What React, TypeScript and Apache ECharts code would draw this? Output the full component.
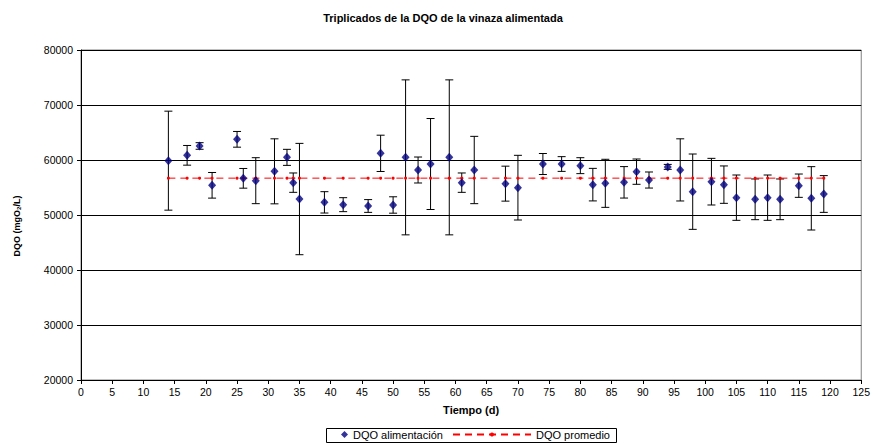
import React, { useEffect, useRef } from "react";
import * as echarts from "echarts";

// Sampling days (d)
const dias = [14, 17, 19, 21, 25, 26, 28, 31, 33, 34, 35, 39, 42, 46, 48, 50, 52, 54, 56, 59, 61, 63, 68, 70, 74, 77, 80, 82, 84, 87, 89, 91, 94, 96, 98, 101, 103, 105, 108, 110, 112, 115, 117, 119];

// Mean COD of each triplicate (mgO2/L)
const dqoMedia = [59880, 60850, 62550, 55400, 63760, 56670, 56240, 57940, 60480, 55880, 52900, 52300, 51880, 51640, 61210, 51820, 60480, 58180, 59270, 60480, 55880, 58180, 55700, 54970, 59270, 59270, 58970, 55520, 55760, 55940, 57880, 56360, 58750, 58200, 54240, 56060, 55520, 53150, 52850, 53150, 52850, 55330, 53030, 53820];

// Standard deviation of each triplicate (mgO2/L)
const dqoDesv = [9000, 1790, 600, 2330, 1430, 1790, 4180, 5910, 1460, 1760, 10120, 1940, 1270, 1160, 3300, 1490, 14090, 2360, 8270, 14090, 1760, 6120, 3180, 5880, 1910, 1340, 1450, 2960, 4370, 2860, 2300, 1460, 450, 5650, 6850, 4240, 3400, 4120, 3700, 4120, 3700, 2120, 5760, 3340];

// Overall average COD of the fed vinasse
const dqoPromedio = 56700;

// Axis ticks
const yTicks = { min: 20000, max: 80000, interval: 10000 };
const xTicks = { min: 0, max: 125, interval: 5 };

const FONT = "'Liberation Sans', Arial, sans-serif";

export default function App() {
  const ref = useRef<HTMLDivElement>(null);

  useEffect(() => {
    if (!ref.current) return;
    const chart = echarts.init(ref.current, null, { renderer: "svg" });

    const puntos = dias.map((d, i) => [d, dqoMedia[i]]);
    const barras = dias.map((d, i) => [d, dqoMedia[i] - dqoDesv[i], dqoMedia[i] + dqoDesv[i]]);
    const promedio = dias.map((d) => [d, dqoPromedio]);

    const legendText = { fontFamily: FONT, fontSize: 11, color: "#000" };

    chart.setOption({
      animation: false,
      backgroundColor: "#ffffff",
      textStyle: { fontFamily: FONT, color: "#000" },
      title: {
        text: "Triplicados de la DQO de la vinaza alimentada",
        left: 438,
        textAlign: "center",
        top: 7,
        textStyle: { fontFamily: FONT, fontSize: 11, fontWeight: "bold", color: "#000" },
      },
      grid: {
        left: 81,
        right: 11,
        top: 50,
        bottom: 63,
        show: true,
        borderColor: "#808080",
        borderWidth: 1,
      },
      legend: [
        {
          left: 341,
          top: 429,
          data: [{ name: "DQO alimentación", icon: "diamond" }],
          itemWidth: 7,
          itemHeight: 7,
          padding: 0,
          textStyle: legendText,
        },
        {
          left: 452,
          top: 429,
          data: [{ name: "DQO promedio" }],
          itemWidth: 78,
          itemHeight: 5,
          padding: 0,
          textStyle: legendText,
        },
      ],
      xAxis: {
        type: "value",
        min: xTicks.min,
        max: xTicks.max,
        interval: xTicks.interval,
        name: "Tiempo (d)",
        nameLocation: "middle",
        nameGap: 24,
        nameTextStyle: { fontFamily: FONT, fontSize: 11, fontWeight: "bold", color: "#000" },
        axisLine: { show: true, lineStyle: { color: "#000", width: 1 } },
        axisTick: { show: true, length: 4, lineStyle: { color: "#000" } },
        axisLabel: { fontFamily: FONT, fontSize: 10.5, color: "#000", margin: 6 },
        splitLine: { show: false },
      },
      yAxis: {
        type: "value",
        min: yTicks.min,
        max: yTicks.max,
        interval: yTicks.interval,
        axisLine: { show: true, lineStyle: { color: "#000", width: 1 } },
        axisTick: { show: true, length: 4, lineStyle: { color: "#000" } },
        axisLabel: {
          fontFamily: FONT,
          fontSize: 10.5,
          color: "#000",
          margin: 8,
          formatter: (v: number) => String(v),
        },
        splitLine: { show: true, lineStyle: { color: "#000", width: 1 } },
      },
      graphic: [
        {
          type: "text",
          x: 17,
          y: 226,
          rotation: Math.PI / 2,
          style: {
            text: "{a|DQO (mgO}{b|2}{a|/L)}",
            rich: {
              a: { fontFamily: FONT, fontSize: 9, fontWeight: "bold", fill: "#000" },
              b: { fontFamily: FONT, fontSize: 6, fontWeight: "bold", fill: "#000", padding: [4, 0, 0, 0] },
            },
            align: "center",
            verticalAlign: "middle",
          },
        },
        {
          type: "rect",
          shape: { x: 326.5, y: 428.5, width: 290, height: 14 },
          style: { fill: "none", stroke: "#000", lineWidth: 1 },
          z: 10,
        },
      ],
      series: [
        {
          name: "error",
          type: "custom",
          z: 2,
          data: barras,
          encode: { x: 0, y: [1, 2] },
          renderItem: (params: any, api: any) => {
            const x = api.value(0);
            const lo = api.coord([x, api.value(1)]);
            const hi = api.coord([x, api.value(2)]);
            const w = 4;
            const st = { stroke: "#000", lineWidth: 1 };
            return {
              type: "group",
              children: [
                { type: "line", shape: { x1: hi[0], y1: hi[1], x2: lo[0], y2: lo[1] }, style: st },
                { type: "line", shape: { x1: hi[0] - w, y1: hi[1], x2: hi[0] + w, y2: hi[1] }, style: st },
                { type: "line", shape: { x1: lo[0] - w, y1: lo[1], x2: lo[0] + w, y2: lo[1] }, style: st },
              ],
            };
          },
        },
        {
          name: "DQO promedio",
          type: "line",
          z: 3,
          data: promedio,
          symbol: "circle",
          symbolSize: 3,
          itemStyle: { color: "#ff0000" },
          lineStyle: { color: "#ff0000", width: 1, type: [7, 5] },
        },
        {
          name: "DQO alimentación",
          type: "scatter",
          z: 4,
          data: puntos,
          symbol: "diamond",
          symbolSize: [8, 9],
          itemStyle: { color: "#000080" },
        },
      ],
    });

    return () => chart.dispose();
  }, []);

  return <div ref={ref} style={{ width: 873, height: 443, position: "absolute", left: 0, top: 0 }} />;
}
